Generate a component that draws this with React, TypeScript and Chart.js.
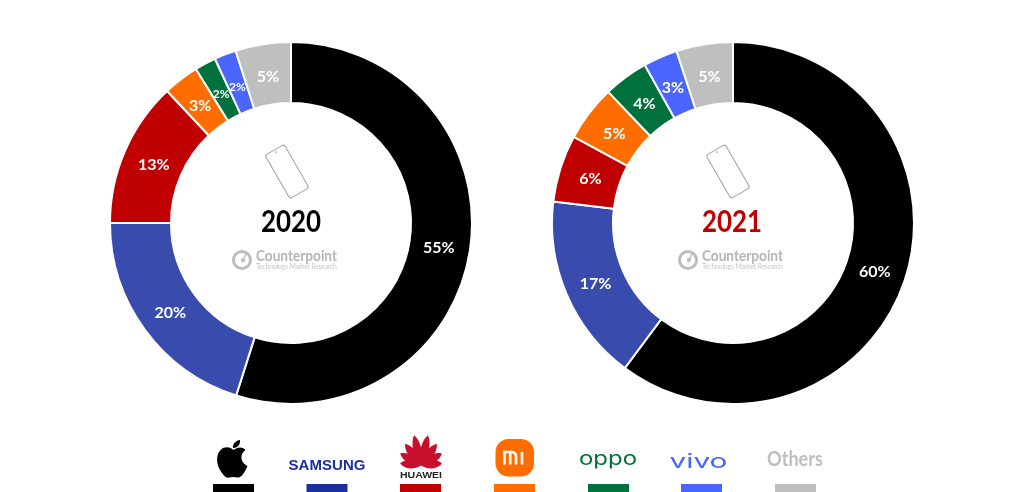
import React, { useEffect, useRef } from "react";
import { Chart, registerables } from "chart.js";

Chart.register(...registerables);

const brands = ["Apple", "Samsung", "Huawei", "Xiaomi", "OPPO", "vivo", "Others"];
const values2020 = [54.9, 20.1, 13.0, 3.2, 1.9, 1.95, 4.95];
const labels2020 = ["55%", "20%", "13%", "3%", "2%", "2%", "5%"];
const values2021 = [60.2, 16.7, 6.0, 5.0, 4.0, 3.05, 5.05];
const labels2021 = ["60%", "17%", "6%", "5%", "4%", "3%", "5%"];
const sliceColors = ["#000000", "#3A4BAE", "#C00000", "#FF6D00", "#00703C", "#4A66FF", "#BFBFBF"];
const swatchColors = ["#000000", "#1B2FA0", "#C00000", "#FF6D00", "#00703C", "#4A66FF", "#BFBFBF"];
const swatchLefts = [213, 306.5, 400, 494, 588, 681, 775];
const FONT = "Lato, 'Open Sans', sans-serif";

const sliceLabels = {
  id: "sliceLabels",
  afterDatasetsDraw(chart: any, _args: any, opts: any) {
    const { ctx } = chart;
    const meta = chart.getDatasetMeta(0);
    ctx.save();
    ctx.fillStyle = "#fff";
    ctx.textAlign = "center";
    ctx.textBaseline = "middle";
    meta.data.forEach((arc: any, i: number) => {
      const mid = (arc.startAngle + arc.endAngle) / 2;
      const small = chart.data.datasets[0].data[i] < 3;
      const r = (arc.innerRadius + arc.outerRadius) / 2 - (small ? 3 : 1);
      ctx.font = `700 ${small ? 12 : 16}px ${FONT}`;
      ctx.fillText(opts.texts[i], arc.x + Math.cos(mid) * r, arc.y + Math.sin(mid) * r + 1.5);
    });
    ctx.restore();
  },
};

function Donut({ values, texts, left }: { values: number[]; texts: string[]; left: number }) {
  const ref = useRef<HTMLCanvasElement>(null);
  useEffect(() => {
    const chart = new Chart(ref.current!, {
      type: "doughnut",
      data: {
        labels: brands,
        datasets: [{ data: values, backgroundColor: sliceColors, borderColor: "#fff", borderWidth: 2, borderAlign: "center" }],
      },
      options: {
        responsive: false,
        animation: false,
        radius: 181,
        cutout: "66.3%",
        layout: { padding: 0 },
        plugins: { legend: { display: false }, tooltip: { enabled: false }, sliceLabels: { texts } },
      } as any,
      plugins: [sliceLabels],
    });
    return () => chart.destroy();
  }, []);
  return <canvas ref={ref} width={400} height={400} style={{ position: "absolute", left, top: 23, width: 400, height: 400 }} />;
}

function Center({ x, year, color }: { x: number; year: string; color: string }) {
  return (
    <g>
      <g transform={`translate(${x - 4} 171.5) rotate(-30)`}>
        <rect x={-11} y={-25} width={22} height={50} rx={2.5} fill="#fff" stroke="#A0A0A0" strokeWidth={1} />
        <circle cx={0} cy={-22.5} r={0.7} fill="#666" />
      </g>
      <text x={x} y={232} textAnchor="middle" fontFamily={FONT} fontWeight={700} fontSize={30} fill={color} textLength={60} lengthAdjust="spacingAndGlyphs">{year}</text>
    </g>
  );
}

function Brand({ x }: { x: number }) {
  return (
    <g>
      <circle cx={x} cy={260} r={8.5} fill="none" stroke="#BDBDBD" strokeWidth={3} />
      <circle cx={x + 1} cy={260} r={2.2} fill="#BDBDBD" />
      <line x1={x + 2} y1={258} x2={x + 5} y2={252} stroke="#BDBDBD" strokeWidth={1.5} />
      <text x={x + 14} y={261} fontFamily={FONT} fontWeight={700} fontSize={14.5} fill="#B5B5B5" textLength={81} lengthAdjust="spacingAndGlyphs">Counterpoint</text>
      <text x={x + 14} y={268.5} fontFamily={FONT} fontSize={7} fill="#C9C9C9" textLength={81}>Technology Market Research</text>
    </g>
  );
}

function Logos() {
  const petals = [
    [-84, 21], [-60, 24], [-36, 27], [-13, 31],
    [13, 31], [36, 27], [60, 24], [84, 21],
  ];
  return (
    <g>
      {/* Apple */}
      <path d="M233.5 450 C229 446 224 447 221 449.5 C216 454 216 463 220 470 C223 475 226 478.5 229 477.5 C231.5 476.7 235 476.7 237.5 477.5 C241 478.5 245 472 247.5 466 C243 464 241 459.5 241.5 456 C242 453 243.5 451.5 245.5 450 C242 446.5 237.5 447 233.5 450 Z" fill="#000" />
      <path d="M233 448 C232.5 444 235.5 440.5 240 440 C240.5 444.5 237.5 448 233 448 Z" fill="#000" />
      {/* Samsung */}
      <text x={327} y={470} textAnchor="middle" fontFamily="'Liberation Sans', sans-serif" fontWeight={700} fontSize={15} fill="#1B2FA0" textLength={77} lengthAdjust="spacing">SAMSUNG</text>
      {/* Huawei */}
      {petals.map(([a, len]) => (
        <path key={a} transform={`translate(421 465.5) rotate(${a})`} d={`M0 0 C-6 ${-len * 0.35} -5 ${-len * 0.8} 0 ${-len} C5 ${-len * 0.8} 6 ${-len * 0.35} 0 0 Z`} fill="#C8102E" />
      ))}
      <text x={421} y={477.5} textAnchor="middle" fontFamily="'Liberation Sans', sans-serif" fontWeight={700} fontSize={9.5} fill="#222" textLength={42} lengthAdjust="spacingAndGlyphs">HUAWEI</text>
      {/* Xiaomi */}
      <rect x={495.5} y={439} width={38.5} height={37.5} rx={13} fill="#FF6D00" />
      <path d="M504.5 464.5 V452 H511 C514.5 452 516 453.5 516 456.5 V464.5 M510.2 452 V464.5 M522 452 V464.5" fill="none" stroke="#fff" strokeWidth={2.6} />
      {/* OPPO */}
      <text x={608} y={465} textAnchor="middle" fontFamily="Inter, sans-serif" fontWeight={400} fontSize={18.5} fill="#00703C" textLength={58} lengthAdjust="spacingAndGlyphs">oppo</text>
      {/* vivo */}
      <text x={698.5} y={467.5} textAnchor="middle" fontFamily="Inter, sans-serif" fontWeight={400} fontSize={20} fill="#4A66FF" textLength={58} lengthAdjust="spacingAndGlyphs">vivo</text>
      {/* Others */}
      <text x={795} y={466} textAnchor="middle" fontFamily={FONT} fontWeight={700} fontSize={20} fill="#BFBFBF" textLength={56} lengthAdjust="spacingAndGlyphs">Others</text>
    </g>
  );
}

export default function App() {
  useEffect(() => {
    document.body.style.margin = "0";
  }, []);
  return (
    <div style={{ position: "absolute", left: 0, top: 0, width: 1024, height: 492, overflow: "hidden", background: "#fff" }}>
      <Donut values={values2020} texts={labels2020} left={91} />
      <Donut values={values2021} texts={labels2021} left={533} />
      <svg width={1024} height={492} style={{ position: "absolute", left: 0, top: 0, pointerEvents: "none" }}>
        <Center x={291} year="2020" color="#000" />
        <Center x={732} year="2021" color="#C00000" />
        <Brand x={242} />
        <Brand x={688} />
        <Logos />
        {swatchLefts.map((x, i) => (
          <rect key={brands[i]} x={x} y={484} width={41} height={8} fill={swatchColors[i]} />
        ))}
      </svg>
    </div>
  );
}
